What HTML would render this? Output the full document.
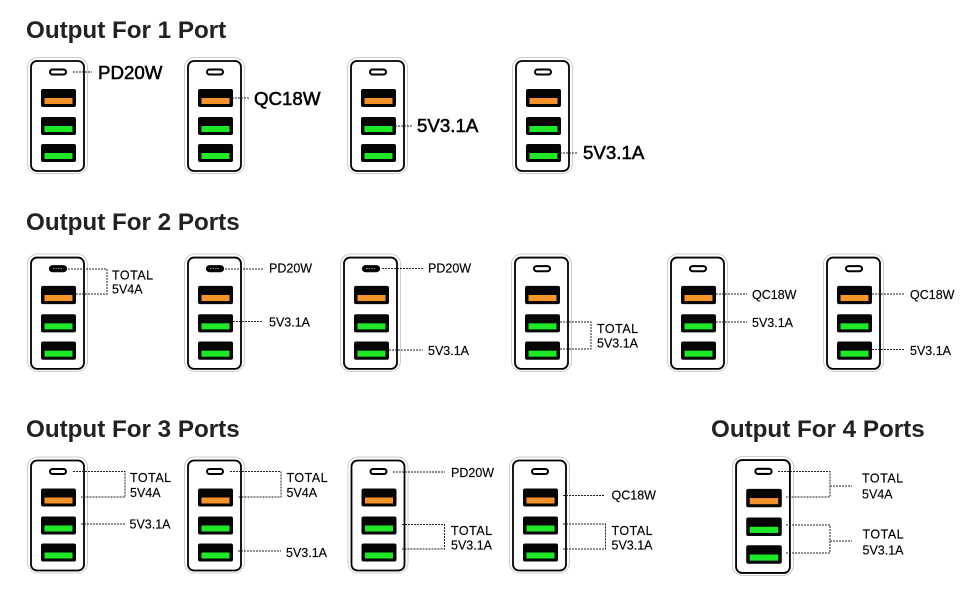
<!DOCTYPE html>
<html><head><meta charset="utf-8"><style>
html,body{margin:0;padding:0;background:#fff}
svg{display:block}
text{font-family:"Liberation Sans",sans-serif;fill:#000;stroke:#000;stroke-width:.15}
.h{font-size:24.2px;font-weight:bold;stroke:none;fill:#222}
.l{font-size:18.7px;stroke-width:.55}
.s{font-size:12.5px}
.t{letter-spacing:.5px}
.d{fill:none;stroke:#222;stroke-width:1;stroke-dasharray:2 1}
</style></head><body>
<svg width="970" height="600" viewBox="0 0 970 600" xmlns="http://www.w3.org/2000/svg">
<defs>
<g id="dev">
<rect x=".5" y=".5" width="60" height="116" rx="10" fill="#fff" stroke="#ccc" stroke-width="1"/>
<rect x="4" y="4" width="53" height="110" rx="6" fill="#fff" stroke="#000" stroke-width="1.8"/>
<rect x="23" y="12.500" width="16" height="5" rx="2.500" fill="#fff" stroke="#000" stroke-width="2"/>
<rect x="14" y="32" width="35" height="18" rx="2" fill="#050505"/>
<rect x="17.500" y="41" width="28" height="6" fill="#f5922a"/>
<rect x="14" y="60" width="35" height="18" rx="2" fill="#050505"/>
<rect x="17.500" y="69" width="28" height="6" fill="#1fe826"/>
<rect x="14" y="87" width="35" height="18" rx="2" fill="#050505"/>
<rect x="17.500" y="96" width="28" height="6" fill="#1fe826"/>
</g>
<g id="cfill">
<rect x="22" y="12" width="18" height="6" rx="3" fill="#000"/>
<path d="M26 15H36" stroke="#999" stroke-width="1" stroke-dasharray="1.500 1"/>
</g>
</defs>
<rect width="970" height="600" fill="#fff"/>

<text class="h" x="26" y="38">Output For 1 Port</text>
<text class="h" x="26" y="230">Output For 2 Ports</text>
<text class="h" x="26" y="437">Output For 3 Ports</text>
<text class="h" x="711" y="437">Output For 4 Ports</text>

<!-- Row 1 -->
<use href="#dev" x="27" y="57"/>
<use href="#dev" x="184" y="57"/>
<use href="#dev" x="347" y="57"/>
<use href="#dev" x="512" y="57"/>
<path class="d" d="M73 72H92"/>
<path class="d" d="M232 98H250"/>
<path class="d" d="M395 126H413"/>
<path class="d" d="M560 153H578"/>
<text class="l" x="98" y="79">PD20W</text>
<text class="l" x="254" y="105">QC18W</text>
<text class="l" x="417" y="132">5V3.1A</text>
<text class="l" x="583" y="159">5V3.1A</text>

<!-- Row 2 -->
<g transform="translate(27 253.500) scale(1 1.012)"><use href="#dev"/><use href="#cfill"/></g>
<g transform="translate(184 253.500) scale(1 1.012)"><use href="#dev"/><use href="#cfill"/></g>
<g transform="translate(340 253.500) scale(1 1.012)"><use href="#dev"/><use href="#cfill"/></g>
<use href="#dev" transform="translate(511 253.500) scale(1 1.012)"/>
<use href="#dev" transform="translate(667 253.500) scale(1 1.012)"/>
<use href="#dev" transform="translate(823 253.500) scale(1 1.012)"/>
<path class="d" d="M68 269H107V294H76"/>
<path class="d" d="M225 269H263"/>
<path class="d" d="M233 321.500H263"/>
<path class="d" d="M382 268.500H423"/>
<path class="d" d="M389 350H423"/>
<path class="d" d="M560 322H591V349H560"/>
<path class="d" d="M716 294H747"/>
<path class="d" d="M716 322H747"/>
<path class="d" d="M872 294H905"/>
<path class="d" d="M872 349.500H905"/>
<text class="s t" x="112" y="279.500">TOTAL</text>
<text class="s" x="112" y="293.500">5V4A</text>
<text class="s" x="269" y="272.500">PD20W</text>
<text class="s" x="269" y="326.500">5V3.1A</text>
<text class="s" x="428" y="272.500">PD20W</text>
<text class="s" x="428" y="355">5V3.1A</text>
<text class="s t" x="597" y="333">TOTAL</text>
<text class="s" x="597" y="347.500">5V3.1A</text>
<text class="s" x="752" y="299">QC18W</text>
<text class="s" x="752" y="327">5V3.1A</text>
<text class="s" x="910" y="299">QC18W</text>
<text class="s" x="910" y="355">5V3.1A</text>

<!-- Row 3 -->
<use href="#dev" x="27" y="456.500"/>
<use href="#dev" x="184" y="456.500"/>
<use href="#dev" x="347.500" y="456.500"/>
<use href="#dev" x="509" y="456.500"/>
<use href="#dev" transform="translate(732 456) scale(1.016 1.026)"/>
<path class="d" d="M73 471.500H125V497H81"/>
<path class="d" d="M230 471.500H281V497H238"/>
<path class="d" d="M81 524H125"/>
<path class="d" d="M238 551H281"/>
<path class="d" d="M393 472H445"/>
<path class="d" d="M402 524.500H444.500V549H402"/>
<path class="d" d="M563 495.500H605"/>
<path class="d" d="M563 524H605.500V549H563"/>
<path class="d" d="M778 471.500H830V497H786M830 486H852"/>
<path class="d" d="M786 525H830V553H786M830 541H852"/>
<text class="s t" x="130" y="482">TOTAL</text>
<text class="s" x="130" y="497">5V4A</text>
<text class="s" x="129.500" y="528.500">5V3.1A</text>
<text class="s t" x="286.500" y="482">TOTAL</text>
<text class="s" x="286.500" y="497">5V4A</text>
<text class="s" x="286" y="557">5V3.1A</text>
<text class="s" x="451" y="477">PD20W</text>
<text class="s t" x="451" y="535">TOTAL</text>
<text class="s" x="451" y="549.500">5V3.1A</text>
<text class="s" x="611.500" y="499.500">QC18W</text>
<text class="s t" x="611.500" y="535">TOTAL</text>
<text class="s" x="611.500" y="549.500">5V3.1A</text>
<text class="s t" x="862" y="482.500">TOTAL</text>
<text class="s" x="862" y="498.500">5V4A</text>
<text class="s t" x="862.500" y="538.500">TOTAL</text>
<text class="s" x="862.500" y="554.500">5V3.1A</text>
</svg>
</body></html>
